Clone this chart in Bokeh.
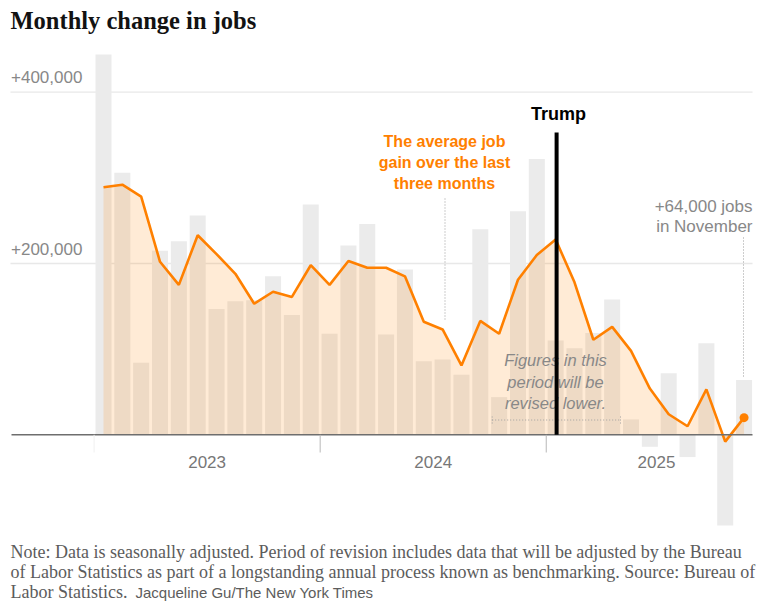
from bokeh.plotting import figure
from bokeh.models import Range1d
from bokeh.core.properties import value
from bokeh.embed import file_html
from bokeh.resources import INLINE

# ---------------- data (thousands of jobs) ----------------
months = ["2023-01", "2023-02", "2023-03", "2023-04", "2023-05", "2023-06",
          "2023-07", "2023-08", "2023-09", "2023-10", "2023-11", "2023-12",
          "2024-01", "2024-02", "2024-03", "2024-04", "2024-05", "2024-06",
          "2024-07", "2024-08", "2024-09", "2024-10", "2024-11", "2024-12",
          "2025-01", "2025-02", "2025-03", "2025-04", "2025-05", "2025-06",
          "2025-07", "2025-08", "2025-09", "2025-10", "2025-11"]
jobs = [444, 306, 84, 215, 226, 256, 147, 156, 157, 185, 140, 269,
        118, 221, 246, 117, 193, 86, 88, 70, 240, 44, 261, 322,
        110, 101, 119, 158, 18, -14, 72, -26, 107, -106, 64]
avg3 = [289, 292, 278, 202, 175, 233, 211, 188, 153, 167, 161, 198,
        175, 203, 195, 195, 185, 132, 123, 81, 133, 118, 181, 210,
        228, 178, 111, 126, 98, 54, 24, 10, 53, -8, 20]
y_ticks = [200, 400]
y_tick_labels = ["+200,000", "+400,000"]
years = ["2023", "2024", "2025"]
year_pos = [5.5, 17.5, 29.35]
year_edges = [11.5, 23.5]
trump_pos = 24.05

idx = list(range(len(months)))

# ---------------- layout helpers (picture px -> data) ----------------
def X(px):
    return (px - 103.0) / 18.84

def Y(py):
    return (434.3 - py) / 0.8565

W, H = 766, 603
p = figure(width=W, height=H, output_backend="svg", toolbar_location=None,
           x_range=Range1d(X(0), X(W)), y_range=Range1d(Y(H), Y(0)),
           x_axis_location=None, y_axis_location=None,
           min_border=0, min_border_left=0, min_border_right=0,
           min_border_top=0, min_border_bottom=0)
p.title.visible = False
p.outline_line_color = None
p.background_fill_color = "white"
p.border_fill_color = "white"
p.xgrid.visible = False
p.ygrid.visible = False

ORANGE = "#ff8000"
GRAY_TXT = "#888888"
MID = "middle"

# gridlines
p.segment(x0=[X(10)] * len(y_ticks), x1=[X(752)] * len(y_ticks), y0=y_ticks, y1=y_ticks,
          line_color="#e8e8e8", line_width=1.3)
p.text(x=[X(10.5)] * len(y_ticks), y=y_ticks, text=y_tick_labels, y_offset=-15,
       text_font=value("Liberation Sans"), text_font_size="17px", text_color=GRAY_TXT,
       text_baseline=MID, text_align="left")

# bars
p.vbar(x=idx, top=jobs, bottom=0, width=0.85, fill_color="#ebebeb", line_color=None)

# 3-month average area
p.varea(x=idx, y1=[0] * len(idx), y2=avg3, fill_color=ORANGE, fill_alpha=0.16)

# revision-period bracket
by = Y(419.5)
p.segment(x0=[X(491.7)], x1=[X(620)], y0=[by], y1=[by], line_color="#a0a0a0",
          line_width=1, line_dash="1 2")
p.segment(x0=[X(491.7), X(620)], x1=[X(491.7), X(620)], y0=[Y(416)] * 2, y1=[Y(424)] * 2,
          line_color="#a0a0a0", line_width=1, line_dash="1 2")

# "Figures in this period will be revised lower."
fig_lines = ["Figures in this", "period will be", "revised lower."]
p.text(x=[X(555)] * 3, y=[Y(359.7), Y(381), Y(402)], text=fig_lines,
       text_font=value("Liberation Sans"), text_font_style="italic", text_font_size="16.5px",
       text_color=GRAY_TXT, text_align="center", text_baseline=MID)

# 3-month average line + end dot
p.line(idx, avg3, line_color=ORANGE, line_width=2.6)
p.scatter(x=[idx[-1]], y=[avg3[-1]], size=9, fill_color=ORANGE, line_color=None)

# zero line
p.segment(x0=[X(11)], x1=[X(752)], y0=[0], y1=[0], line_color="#6e6e6e", line_width=1.5)

# year ticks and labels
p.segment(x0=[-0.5], x1=[-0.5], y0=[0], y1=[Y(452)], line_color="#f0f0f0", line_width=1)
p.segment(x0=year_edges, x1=year_edges, y0=[0] * len(year_edges), y1=[Y(452)] * len(year_edges),
          line_color="#b8b8b8", line_width=1)
p.text(x=year_pos, y=[Y(461)] * len(years), text=years,
       text_font=value("Liberation Sans"), text_font_size="17px", text_color="#777777",
       text_align="center", text_baseline=MID)

# leader lines
p.segment(x0=[X(444.5), X(743)], x1=[X(444.5), X(743)], y0=[Y(198), Y(237)], y1=[Y(320), Y(376)],
          line_color="#9a9a9a", line_width=1, line_dash="1 2")

# orange annotation
ann = ["The average job", "gain over the last", "three months"]
p.text(x=[X(444)] * 3, y=[Y(140.7), Y(161.7), Y(182.5)], text=ann,
       text_font=value("Liberation Sans"), text_font_style="bold", text_font_size="16px",
       text_color=ORANGE, text_align="center", text_baseline=MID)

# November annotation
nov = ["+64,000 jobs", "in November"]
p.text(x=[X(752)] * 2, y=[Y(206), Y(226.3)], text=nov,
       text_font=value("Liberation Sans"), text_font_size="17px", text_color=GRAY_TXT,
       text_align="right", text_baseline=MID)

# Trump line
p.segment(x0=[trump_pos], x1=[trump_pos], y0=[0], y1=[Y(132)], line_color="black", line_width=4)
p.text(x=[X(558)], y=[Y(113)], text=["Trump"],
       text_font=value("Liberation Sans"), text_font_style="bold", text_font_size="18px",
       text_color="black", text_align="center", text_baseline=MID)

# title
p.text(x=[X(10)], y=[Y(19.5)], text=["Monthly change in jobs"],
       text_font=value("Liberation Serif"), text_font_style="bold", text_font_size="24.5px",
       text_color="#121212", text_align="left", text_baseline=MID)

# note
note = ["Note: Data is seasonally adjusted. Period of revision includes data that will be adjusted by the Bureau",
        "of Labor Statistics as part of a longstanding annual process known as benchmarking. Source: Bureau of",
        "Labor Statistics."]
p.text(x=[X(10)] * 3, y=[Y(551.5), Y(571.8), Y(591.5)], text=note,
       text_font=value("Liberation Serif"), text_font_size="18px", text_color="#5c5c5c",
       text_align="left", text_baseline=MID)
p.text(x=[X(135)], y=[Y(591.5)], text=["Jacqueline Gu/The New York Times"],
       text_font=value("Liberation Sans"), text_font_size="15px", text_color="#5c5c5c",
       text_align="left", text_baseline=MID)

open("out.html", "w").write(file_html(p, INLINE))
